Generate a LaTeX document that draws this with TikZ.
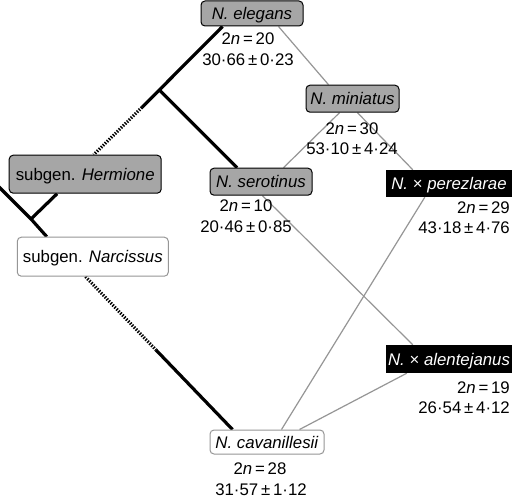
\documentclass[tikz,border=0pt]{standalone}
\usepackage{fontspec}
\setmainfont{Liberation Sans}
\usetikzlibrary{calc,backgrounds}
\definecolor{boxgrey}{RGB}{166,166,166}
\definecolor{linegrey}{RGB}{150,150,150}
\newcommand{\pmsep}{\,±\,}
\begin{document}
\begin{tikzpicture}[x=1bp,y=-1bp,
  every node/.style={font=\fontsize{16.8bp}{20bp}\selectfont, inner sep=0pt},
  box/.style={rounded corners=4bp, text height=12bp, text depth=0bp},
  grey box/.style={box, draw=black, line width=1bp, fill=boxgrey},
  white box/.style={box, draw=linegrey, line width=1bp, fill=white},
  black box/.style={text height=12bp, text depth=0bp, fill=black, text=white},
  lab/.style={anchor=base},
  labr/.style={anchor=base east},
  tree/.style={line width=3.2bp, black},
  treedot/.style={line width=3.2bp, black, dash pattern=on 1.4bp off 1.4bp},
  link/.style={line width=1.2bp, linegrey}]
\useasboundingbox (0,0) rectangle (514,500);

% boxes
\node[grey box, minimum width=102bp, minimum height=25bp] (ele) at (252,13.5) {\textit{N. elegans}};
\node[grey box, minimum width=93bp, minimum height=27bp] (min) at (352.5,98.7) {\textit{N. miniatus}};
\node[grey box, minimum width=102bp, minimum height=27bp] (ser) at (261,181.7) {\textit{N. serotinus}};
\node[black box, minimum width=126bp, minimum height=27bp] (per) at (449,183.5) {\textit{N.} × \textit{perezlarae}};
\node[black box, minimum width=126bp, minimum height=28bp] (ale) at (449,359) {\textit{N.} × \textit{alentejanus}};
\node[white box, minimum width=114bp, minimum height=24bp] (cav) at (267,442) {\textit{N. cavanillesii}};
\node[grey box, minimum width=152bp, minimum height=38bp] (her) at (85.2,174.2) {subgen. \textit{Hermione}};
\node[white box, minimum width=151bp, minimum height=39bp] (nar) at (92.8,256.7) {subgen. \textit{Narcissus}};

% labels
\node[lab] (ele2n) at (248,45) {2\textit{n}\,=\,20};
\node[lab] (elesz) at (248,66) {30·66\pmsep 0·23};
\node[lab] (min2n) at (352,134.3) {2\textit{n}\,=\,30};
\node[lab] (minsz) at (352,155) {53·10\pmsep 4·24};
\node[lab] (ser2n) at (246,211.7) {2\textit{n}\,=\,10};
\node[lab] (sersz) at (246,232.7) {20·46\pmsep 0·85};
\node[labr] (per2n) at (510,213.3) {2\textit{n}\,=\,29};
\node[labr] (persz) at (510,233.3) {43·18\pmsep 4·76};
\node[labr] (ale2n) at (510,393.3) {2\textit{n}\,=\,19};
\node[labr] (alesz) at (510,413.3) {26·54\pmsep 4·12};
\node[lab] (cav2n) at (260,474.3) {2\textit{n}\,=\,28};
\node[lab] (cavsz) at (261,495) {31·57\pmsep 1·12};

% junctions
\coordinate (j1) at (159.3,90);
\coordinate (j1d) at (142,107.3);
\coordinate (j2) at (31,219);
\coordinate (lt) at (-4,184);

\begin{pgfonlayer}{background}
\fill[white] (0,0) rectangle (514,500);
\draw[tree] ([xshift=22bp]ele.south west) -- (j1) -- (j1d);
\draw[treedot] (j1d) -- ([xshift=85bp]her.north west);
\draw[tree] (j1) -- ([xshift=27.6bp]ser.north west);
\draw[tree] (lt) -- (j2) -- ([xshift=30bp]nar.north west);
\draw[tree] (j2) -- ([xshift=48.4bp]her.south west);
\coordinate (na) at ([xshift=68.7bp]nar.south west);
\coordinate (cb) at ([xshift=23bp]cav.north west);
\coordinate (nd) at ($(na)!0.48!(cb)$);
\draw[treedot] (na) -- (nd);
\draw[tree] (nd) -- (cb);

\draw[link] ([xshift=78bp]ele.south west) -- ([xshift=23bp]min.north west);
\draw[link] ([xshift=34bp]min.south west) -- ([xshift=74bp]ser.north west);
\draw[link] ([xshift=52bp]min.south west) -- ([xshift=27bp]per.north west);
\draw[link] ([xshift=53bp]ser.south west) -- ([xshift=27bp]ale.north west);
\draw[link] ([xshift=39bp]per.south west) -- ([xshift=72bp]cav.north west);
\draw[link] ([xshift=21bp]ale.south west) -- ([xshift=90bp]cav.north west);
\end{pgfonlayer}
\end{tikzpicture}
\end{document}
